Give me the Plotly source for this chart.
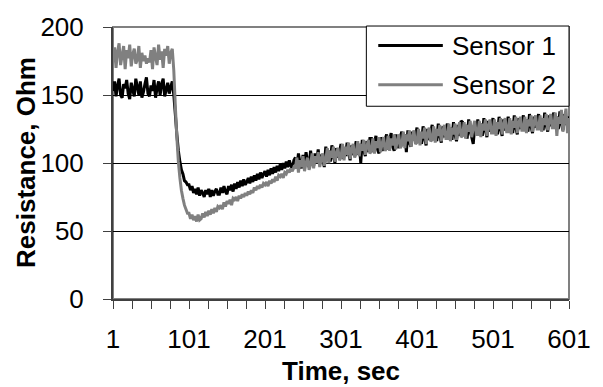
import plotly.graph_objects as go

# Time axis (seconds), sampled every 2 s
time_sec = list(range(1, 602, 2))

sensor1 = [
    153, 160, 149, 157, 162, 150, 148, 158, 155, 161,
    151, 147, 159, 154, 149, 162, 156, 150, 160, 148,
    152, 158, 163, 151, 149, 157, 153, 161, 148, 155,
    160, 150, 158, 162, 149, 154, 159, 151, 156, 160,
    150, 136, 121, 109, 101, 95, 92, 87, 86, 84,
    84, 80, 83, 78, 81, 77, 82, 76, 80, 78,
    75, 80, 77, 81, 75, 80, 76, 79, 81, 77,
    77, 82, 78, 83, 79, 77, 83, 80, 84, 79,
    85, 81, 86, 82, 87, 83, 88, 84, 86, 89,
    85, 90, 86, 91, 87, 92, 88, 93, 89, 92,
    94, 90, 95, 91, 96, 92, 97, 93, 98, 94,
    99, 95, 100, 96, 101, 97, 102, 98, 96, 102,
    104, 97, 107, 100, 96, 106, 99, 108, 101, 97,
    109, 100, 98, 107, 102, 110, 99, 106, 103, 97,
    112, 102, 109, 101, 113, 105, 100, 111, 104, 108,
    114, 103, 111, 105, 115, 107, 102, 113, 106, 110,
    116, 106, 114, 100, 117, 109, 105, 116, 108, 118,
    118, 108, 115, 120, 110, 107, 119, 112, 109, 117,
    121, 110, 117, 122, 112, 109, 121, 114, 111, 119,
    123, 113, 121, 108, 124, 115, 112, 123, 117, 120,
    126, 115, 122, 114, 127, 118, 113, 125, 117, 123,
    128, 117, 124, 116, 129, 120, 115, 127, 119, 125,
    129, 118, 126, 117, 130, 121, 116, 128, 120, 131,
    130, 120, 128, 118, 132, 123, 119, 114, 127, 122,
    132, 121, 129, 120, 133, 124, 119, 131, 123, 128,
    133, 122, 130, 121, 134, 125, 120, 132, 124, 129,
    134, 123, 131, 122, 135, 126, 121, 133, 125, 130,
    135, 124, 132, 123, 136, 127, 122, 134, 126, 131,
    136, 125, 133, 124, 137, 128, 123, 135, 127, 132,
    137, 126, 134, 125, 138, 129, 124, 136, 128, 133,
    134,
]

sensor2 = [
    174, 185, 170, 182, 188, 172, 179, 186, 169, 183,
    177, 187, 171, 180, 184, 173, 176, 186, 170, 181,
    175, 179, 173, 177, 174, 183, 169, 185, 178, 172,
    187, 176, 182, 170, 184, 179, 186, 173, 181, 184,
    168, 142, 119, 101, 89, 80, 74, 69, 66, 63,
    63, 59, 62, 58, 61, 57, 62, 58, 59, 63,
    60, 64, 61, 65, 62, 66, 63, 67, 64, 68,
    67, 69, 66, 71, 68, 72, 70, 73, 69, 74,
    73, 75, 72, 76, 74, 77, 75, 78, 76, 79,
    77, 80, 78, 82, 80, 83, 81, 84, 82, 85,
    84, 86, 83, 87, 85, 88, 86, 90, 87, 91,
    90, 92, 89, 93, 92, 95, 93, 96, 94, 97,
    96, 104, 93, 102, 97, 105, 94, 100, 104, 95,
    99, 107, 96, 105, 100, 108, 97, 103, 107, 98,
    102, 111, 100, 109, 104, 112, 101, 107, 111, 102,
    104, 114, 102, 112, 106, 115, 103, 110, 114, 104,
    107, 116, 105, 114, 109, 117, 106, 112, 117, 107,
    109, 118, 107, 116, 111, 119, 108, 114, 119, 109,
    111, 120, 109, 118, 113, 121, 110, 116, 121, 111,
    113, 123, 111, 121, 116, 124, 112, 119, 124, 114,
    115, 125, 113, 123, 118, 126, 114, 121, 126, 116,
    117, 127, 115, 125, 120, 128, 116, 123, 128, 118,
    118, 129, 116, 126, 121, 129, 117, 124, 130, 119,
    120, 130, 118, 128, 123, 131, 119, 126, 131, 121,
    121, 131, 119, 129, 124, 132, 120, 127, 132, 122,
    122, 132, 120, 130, 125, 133, 121, 128, 133, 123,
    123, 133, 121, 131, 126, 134, 122, 129, 134, 124,
    124, 134, 122, 132, 127, 135, 123, 130, 135, 125,
    125, 135, 123, 133, 128, 136, 124, 131, 136, 126,
    126, 137, 120, 134, 129, 139, 123, 132, 140, 122,
    133,
]

series_names = ["Sensor 1", "Sensor 2"]
series_colors = ["#000000", "#808080"]

x_tick_vals = [1, 101, 201, 301, 401, 501, 601]
y_tick_vals = [0, 50, 100, 150, 200]

FONT = "Liberation Sans, Arial, sans-serif"

fig = go.Figure()
for name, vals, col in zip(series_names, [sensor1, sensor2], series_colors):
    fig.add_trace(go.Scatter(x=time_sec, y=vals, mode="lines", name=name,
                             line=dict(color=col, width=3, simplify=False),
                             showlegend=False))

fig.update_layout(
    width=603, height=387,
    margin=dict(l=113, r=31, t=21, b=88),
    paper_bgcolor="white", plot_bgcolor="white",
    font=dict(family=FONT, size=26, color="black"),
    showlegend=False,
)

fig.update_xaxes(
    range=[1, 601], tickmode="array", tickvals=x_tick_vals,
    ticks="outside", ticklen=8, tickwidth=1, tickcolor="#404040",
    showline=True, linecolor="#404040", linewidth=2,
    showgrid=False, zeroline=False,
    minor=dict(ticks="outside", ticklen=8, tickwidth=1, tickcolor="#404040",
               tick0=1, dtick=25, showgrid=False),
    tickfont=dict(size=26), ticklabelstandoff=8,
)
fig.update_yaxes(
    range=[0, 200], tickmode="array", tickvals=y_tick_vals,
    ticks="outside", ticklen=8, tickwidth=1, tickcolor="#404040",
    showline=True, linecolor="#404040", linewidth=2,
    showgrid=True, gridcolor="#000000", gridwidth=1, zeroline=False,
    tickfont=dict(size=26), ticklabelstandoff=14,
)

# gray plot-area border (top/right)
fig.add_shape(type="rect", xref="paper", yref="paper", x0=0, x1=1, y0=0, y1=1,
              line=dict(color="#808080", width=2), layer="below")

# legend box (drawn as shapes + text)
fig.add_shape(type="rect", xref="paper", yref="paper",
              x0=0.5556, x1=1.0, y0=0.7086, y1=1.0036,
              line=dict(color="black", width=1), fillcolor="white", layer="above")
for (name, col), ly in zip(zip(series_names, series_colors), [0.9317, 0.7878]):
    fig.add_shape(type="line", xref="paper", yref="paper",
                  x0=0.5817, x1=0.7233, y0=ly, y1=ly,
                  line=dict(color=col, width=3), layer="above")
    fig.add_annotation(text=name, xref="paper", yref="paper", x=0.7386, y=ly,
                       xanchor="left", yanchor="middle", showarrow=False,
                       font=dict(size=26))

fig.add_annotation(text="<b>Time, sec</b>", xref="paper", yref="paper",
                   x=0.5, y=0, yshift=-72, showarrow=False,
                   font=dict(size=26), yanchor="middle")
fig.add_annotation(text="<b>Resistance, Ohm</b>", xref="paper", yref="paper",
                   x=0, xshift=-87, y=0.5, showarrow=False, textangle=-90,
                   font=dict(size=26), xanchor="center")

fig.write_html("out.html")
